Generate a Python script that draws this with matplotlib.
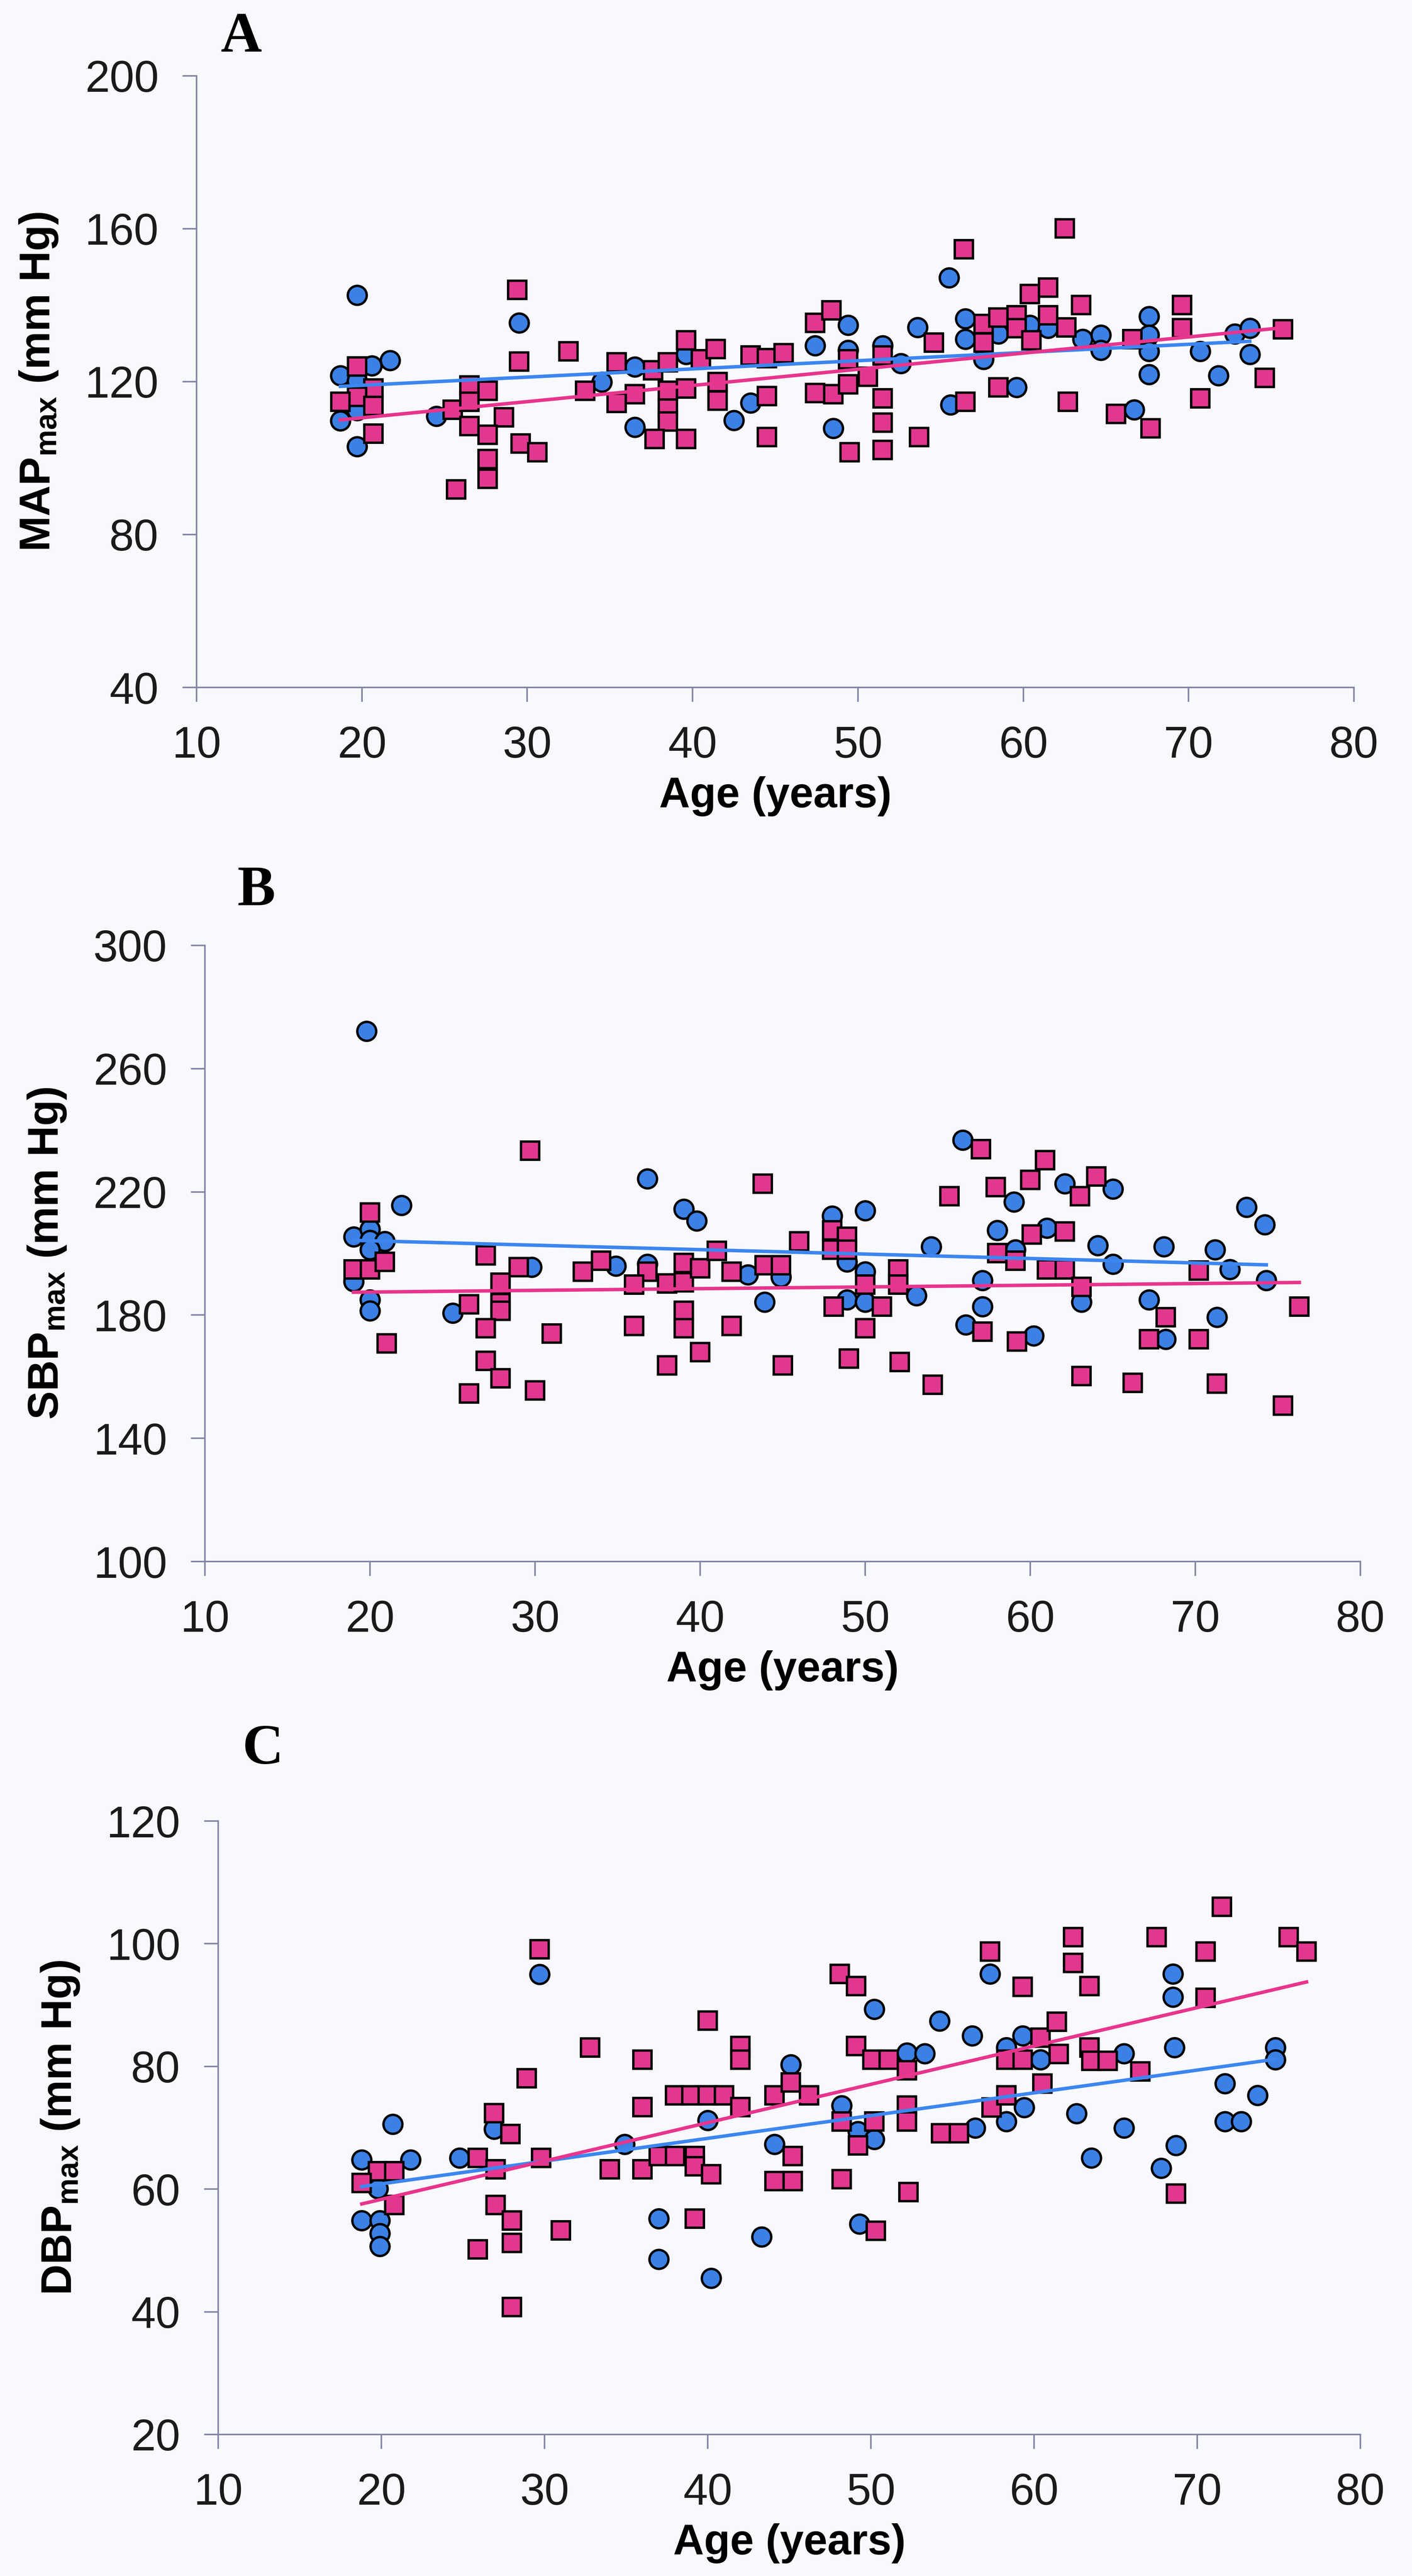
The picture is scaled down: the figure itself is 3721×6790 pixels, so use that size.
import numpy as np
import matplotlib
matplotlib.use("Agg")
import matplotlib.pyplot as plt

plt.rcParams['font.family'] = ['Liberation Sans', 'DejaVu Sans']
plt.rcParams['mathtext.fontset'] = 'custom'
plt.rcParams['mathtext.rm'] = 'Liberation Sans'
plt.rcParams['mathtext.bf'] = 'Liberation Sans:bold'
plt.rcParams['mathtext.it'] = 'Liberation Sans:italic'

# ---- data: (age, value) ----
# panel A: MAPmax
a_blue_age = [19.7, 29.5, 21.7, 20.6, 18.7, 19.7, 19.7, 18.7, 19.7, 24.5, 34.5, 36.5, 36.5, 39.6,
              42.5, 43.5, 47.4, 49.4, 49.4, 51.5, 52.6, 48.5, 53.6, 55.5, 56.5, 56.5, 57.6, 58.5,
              60.4, 61.5, 63.6, 64.7, 64.7, 59.6, 55.6, 66.7, 67.6, 67.6, 67.6, 67.6, 70.7, 71.8,
              72.8, 73.7, 73.7]
a_blue_val = [142.6, 135.4, 125.6, 124.2, 121.6, 120.2, 112.5, 109.8, 103.0, 111.0, 119.9, 123.9,
              108.1, 127.1, 109.9, 114.4, 129.4, 134.8, 128.2, 129.4, 124.8, 107.8, 134.2, 147.2,
              136.5, 131.1, 125.9, 132.5, 134.8, 134.0, 131.1, 132.2, 128.2, 118.5, 113.9, 112.7,
              137.1, 132.2, 127.9, 121.9, 127.9, 121.6, 132.5, 134.0, 127.1]
a_pink_age = [29.4, 29.5, 32.5, 19.7, 20.7, 19.7, 18.7, 20.7, 20.7, 25.5, 26.5, 27.6, 26.5, 28.6,
              26.5, 27.6, 29.6, 30.6, 27.6, 27.6, 25.7, 33.5, 35.4, 36.5, 35.4, 37.6, 38.5, 38.5,
              38.5, 38.5, 37.7, 39.6, 39.6, 40.5, 41.4, 39.6, 41.5, 41.5, 43.5, 44.5, 45.5, 44.5,
              44.5, 47.4, 48.4, 47.4, 49.4, 48.5, 49.4, 50.6, 51.5, 51.5, 51.5, 51.5, 49.5, 53.7,
              54.6, 56.4, 57.6, 57.6, 58.5, 59.6, 59.6, 60.4, 60.5, 61.5, 61.5, 62.6, 62.5, 63.5,
              58.5, 56.5, 62.7, 65.6, 67.7, 66.6, 69.6, 69.6, 70.7, 74.6, 75.7]
a_pink_val = [144.0, 125.3, 127.9, 124.0, 118.2, 116.0, 114.7, 113.6, 106.4, 112.7, 119.0, 117.6,
              114.7, 110.7, 108.4, 106.1, 103.8, 101.5, 99.8, 94.6, 91.8, 117.6, 125.1, 116.7,
              114.4, 123.0, 125.1, 117.6, 113.0, 109.6, 105.0, 105.0, 130.8, 125.9, 128.5, 118.2,
              119.9, 115.0, 126.8, 126.2, 127.4, 116.2, 105.5, 135.4, 138.7, 117.0, 125.9, 116.7,
              119.3, 121.3, 126.8, 115.6, 109.3, 102.1, 101.5, 105.5, 130.2, 154.6, 135.1, 130.2,
              136.8, 137.4, 134.0, 142.9, 130.8, 144.6, 137.4, 134.2, 160.1, 140.0, 118.5, 114.7,
              114.7, 111.6, 107.8, 131.1, 140.0, 134.0, 115.6, 121.0, 133.7]

# panel B: SBPmax
b_blue_age = [19.8, 36.8, 39.0, 39.8, 21.9, 55.9, 59.0, 62.1, 65.0, 50.0, 73.1, 74.2, 19.0, 20.0,
              20.0, 20.9, 20.0, 19.0, 20.0, 20.0, 29.8, 25.0, 34.9, 36.8, 42.9, 44.9, 43.9, 48.0,
              48.9, 50.0, 48.9, 50.0, 53.1, 54.0, 57.1, 57.1, 56.1, 58.0, 59.1, 61.0, 63.1, 60.2,
              64.1, 65.0, 67.2, 68.2, 68.1, 71.2, 72.1, 71.3, 74.3]
b_blue_val = [272.2, 224.3, 214.4, 210.6, 215.6, 236.8, 216.8, 222.7, 220.9, 213.9, 215.0, 209.4,
              205.4, 207.9, 204.3, 204.0, 201.2, 190.9, 185.0, 181.4, 195.6, 180.7, 195.9, 196.6,
              193.1, 192.4, 184.2, 212.2, 197.3, 194.1, 185.0, 184.2, 186.3, 202.2, 191.3, 182.8,
              176.8, 207.5, 201.2, 208.3, 184.2, 173.3, 202.6, 196.6, 185.0, 172.2, 202.2, 201.2,
              194.8, 179.3, 191.3]
b_pink_age = [29.7, 43.8, 20.0, 57.0, 60.9, 60.0, 57.9, 63.0, 64.0, 55.1, 19.0, 20.0, 20.9, 21.0,
              27.0, 29.0, 27.9, 27.9, 27.9, 26.0, 27.0, 31.0, 27.0, 27.9, 26.0, 30.0, 32.9, 34.0,
              36.8, 36.0, 38.0, 39.0, 39.0, 40.0, 41.0, 41.9, 43.9, 44.9, 46.0, 36.0, 39.0, 39.0,
              41.9, 40.0, 38.0, 45.0, 48.0, 48.9, 48.0, 48.9, 50.0, 51.0, 48.1, 50.0, 52.0, 52.0,
              49.0, 52.1, 54.1, 57.1, 58.0, 59.1, 60.1, 62.1, 61.0, 62.1, 63.1, 59.2, 63.1, 66.2,
              68.2, 67.2, 70.2, 70.2, 71.3, 76.3, 75.3]
b_pink_val = [233.4, 222.7, 213.3, 233.9, 230.3, 223.9, 221.6, 218.6, 225.0, 218.6, 194.8, 194.8,
              197.3, 170.8, 199.4, 195.6, 190.5, 183.9, 181.4, 183.5, 175.7, 174.0, 165.2, 159.5,
              154.6, 155.6, 194.1, 197.6, 194.1, 189.9, 190.3, 190.6, 196.9, 195.2, 200.9, 194.1,
              196.2, 196.2, 204.0, 176.5, 181.4, 175.7, 176.5, 168.0, 163.7, 163.7, 207.5, 205.4,
              201.2, 201.2, 189.9, 182.8, 182.8, 175.7, 194.8, 189.9, 165.9, 164.8, 157.4, 174.6,
              200.1, 197.6, 206.2, 207.1, 194.8, 194.8, 189.2, 171.4, 160.2, 158.0, 179.3, 172.2,
              194.5, 172.2, 157.8, 182.8, 150.6]

# panel C: DBPmax
c_blue_age = [29.7, 20.7, 18.8, 21.8, 19.8, 18.8, 19.9, 19.9, 19.9, 24.8, 26.9, 34.9, 40.0, 37.0,
              37.0, 40.2, 43.3, 45.1, 44.1, 50.2, 52.2, 53.3, 54.2, 56.2, 57.3, 59.3, 58.3, 60.4,
              65.5, 68.5, 68.5, 68.6, 74.8, 74.8, 71.7, 73.7, 71.7, 72.7, 48.2, 49.2, 50.2, 56.4,
              58.3, 59.4, 62.6, 63.5, 65.5, 68.7, 67.8, 49.3]
c_blue_val = [95.0, 70.6, 64.8, 64.8, 60.1, 54.9, 54.9, 52.8, 50.7, 65.1, 69.8, 67.3, 71.2, 55.2,
              48.6, 45.5, 52.2, 80.3, 67.3, 89.3, 82.2, 82.1, 87.4, 85.0, 95.1, 85.0, 83.1, 81.1,
              82.1, 95.1, 91.3, 83.1, 83.1, 81.1, 77.2, 75.3, 71.0, 71.0, 73.6, 69.4, 68.1, 70.0,
              71.0, 73.3, 72.3, 65.1, 70.0, 67.1, 63.4, 54.3]
c_pink_age = [29.7, 19.8, 20.8, 18.8, 20.8, 25.9, 26.9, 27.9, 27.0, 28.9, 29.8, 27.0, 28.0, 25.9,
              28.0, 31.0, 28.0, 32.8, 34.0, 36.0, 36.0, 36.0, 37.0, 38.0, 38.0, 39.0, 40.0, 41.0,
              42.0, 40.0, 42.0, 42.0, 39.2, 39.2, 40.2, 39.2, 44.1, 45.1, 46.2, 45.2, 44.1, 45.2,
              48.1, 49.1, 49.1, 50.1, 51.1, 52.2, 57.3, 59.3, 60.4, 58.3, 59.3, 61.5, 61.4, 62.4,
              62.4, 63.4, 63.4, 63.5, 64.5, 66.5, 67.5, 70.5, 71.5, 70.5, 75.6, 76.7, 48.2, 49.2,
              50.2, 52.2, 52.2, 54.3, 55.4, 57.4, 58.3, 60.5, 68.7, 48.2, 52.3, 50.3]
c_pink_val = [99.1, 62.9, 62.9, 61.0, 57.4, 65.1, 72.4, 69.0, 63.2, 78.1, 65.1, 57.4, 54.9, 50.2,
              51.2, 53.3, 40.8, 83.1, 63.2, 81.1, 73.4, 63.2, 65.4, 65.4, 75.3, 75.3, 75.3, 75.3,
              73.4, 87.5, 83.3, 81.1, 65.4, 63.7, 62.4, 55.2, 75.3, 77.4, 75.3, 65.4, 61.3, 61.3,
              95.1, 93.1, 83.3, 81.1, 81.1, 79.4, 98.7, 93.0, 84.7, 81.1, 81.1, 82.0, 87.3, 101.1,
              96.9, 93.1, 83.1, 80.9, 80.9, 79.2, 101.1, 98.7, 106.0, 91.2, 101.1, 98.7, 71.0, 67.1,
              71.0, 73.6, 71.0, 69.1, 69.1, 73.3, 75.3, 77.2, 59.3, 61.6, 59.5, 53.2]

x_ticks = [10, 20, 30, 40, 50, 60, 70, 80]
a_yticks = [40, 80, 120, 160, 200]
b_yticks = [100, 140, 180, 220, 260, 300]
c_yticks = [20, 40, 60, 80, 100, 120]

BLUE = '#3b80e4'
PINK = '#e2378f'
BLUE_LINE = '#3d86f0'
PINK_LINE = '#e8358e'
AXCOL = '#8486a6'
BG = '#f8f9fc'

W, H = 3721, 6790
fig = plt.figure(figsize=(W / 300, H / 300), dpi=300, facecolor=BG)

panels = [
    # letter, rect, blue, pink, yticks, ylabel, letter pos
    ('A', [518 / W, 1 - 1812 / H, 3050 / W, 1612 / H],
     (a_blue_age, a_blue_val), (a_pink_age, a_pink_val), a_yticks,
     r'MAP$_{\mathbf{max}}$ (mm Hg)', (636 / W, 1 - 100 / H)),
    ('B', [540 / W, 1 - 4116 / H, 3045 / W, 1624 / H],
     (b_blue_age, b_blue_val), (b_pink_age, b_pink_val), b_yticks,
     r'SBP$_{\mathbf{max}}$ (mm Hg)', (676 / W, 1 - 2350 / H)),
    ('C', [575 / W, 1 - 6417 / H, 3010 / W, 1617 / H],
     (c_blue_age, c_blue_val), (c_pink_age, c_pink_val), c_yticks,
     r'DBP$_{\mathbf{max}}$ (mm Hg)', (693 / W, 1 - 4613 / H)),
]

for letter, rect, blue, pink, yticks, ylabel, lpos in panels:
    ax = fig.add_axes(rect)
    ax.set_facecolor('none')

    ax.plot(blue[0], blue[1], linestyle='none', marker='o', markersize=12,
            markerfacecolor=BLUE, markeredgecolor='black', markeredgewidth=1.5, zorder=3)
    ax.plot(pink[0], pink[1], linestyle='none', marker='s', markersize=11.5,
            markerfacecolor=PINK, markeredgecolor='black', markeredgewidth=1.5, zorder=3)

    # linear trend lines over each group's age range
    for (xs, ys), col in ((blue, BLUE_LINE), (pink, PINK_LINE)):
        xs = np.asarray(xs)
        k, b = np.polyfit(xs, ys, 1)
        xx = np.array([xs.min(), xs.max()])
        ax.plot(xx, k * xx + b, color=col, linewidth=2.2, zorder=4)

    ax.set_xlim(10, 80)
    ax.set_ylim(yticks[0], yticks[-1])
    ax.set_xticks(x_ticks)
    ax.set_yticks(yticks)
    for s in ('top', 'right'):
        ax.spines[s].set_visible(False)
    for s in ('left', 'bottom'):
        ax.spines[s].set_color(AXCOL)
        ax.spines[s].set_linewidth(1.0)
    ax.tick_params(direction='out', length=9, width=1.0, color=AXCOL,
                   labelsize=28, labelcolor='#1a1a1a', pad=15)
    ax.set_xlabel('Age (years)', fontsize=27, fontweight='bold', labelpad=6)
    ax.set_ylabel(ylabel, fontsize=27, fontweight='bold', labelpad=16)
    fig.text(lpos[0], lpos[1], letter, fontsize=36, fontweight='bold',
             family='Liberation Serif', ha='center', va='center')

fig.savefig('out.png', dpi=300, facecolor=BG)
